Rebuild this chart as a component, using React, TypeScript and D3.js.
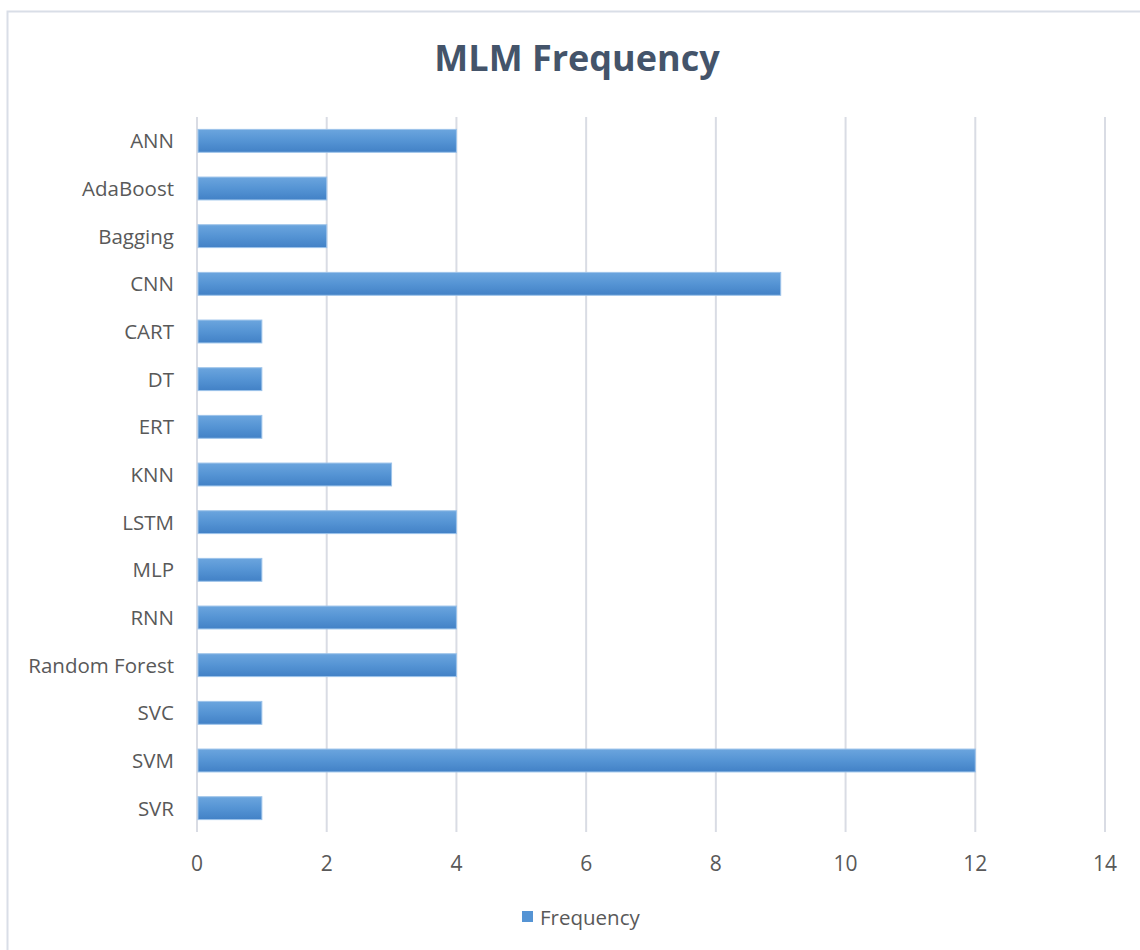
import React from "react";
import * as d3 from "d3";

const categories = ["ANN", "AdaBoost", "Bagging", "CNN", "CART", "DT", "ERT", "KNN", "LSTM", "MLP", "RNN", "Random Forest", "SVC", "SVM", "SVR"];
const frequency = [4, 2, 2, 9, 1, 1, 1, 3, 4, 1, 4, 4, 1, 12, 1];
const xTicks = [0, 2, 4, 6, 8, 10, 12, 14];

const W = 1140;
const H = 950;
const plot = { left: 197, right: 1105, top: 117, bottom: 832 };
const font = "'Open Sans', Lato, 'DejaVu Sans', sans-serif";
const textColor = "#595959";

export default function App() {
  const x = d3.scaleLinear().domain([0, 14]).range([plot.left, plot.right]);
  const y = d3.scaleBand<string>().domain(categories).range([plot.top, plot.bottom]).paddingInner(0.52).paddingOuter(0.26);

  return (
    <div style={{ position: "fixed", left: 0, top: 0 }}>
      <svg width={W} height={H} style={{ display: "block", background: "#fff" }}>
        <defs>
          <linearGradient id="barGrad" x1="0" y1="0" x2="0" y2="1">
            <stop offset="0%" stopColor="#6ba5de" />
            <stop offset="50%" stopColor="#5594d4" />
            <stop offset="100%" stopColor="#4281c6" />
          </linearGradient>
        </defs>
        <rect x={7.5} y={11.5} width={W + 10} height={H + 10} fill="#fff" stroke="#d9dee7" strokeWidth={2} />
        <text x={577} y={71} textAnchor="middle" fontFamily={font} fontWeight={700} fontSize={36} fill="#44546a">
          MLM Frequency
        </text>
        {xTicks.map((t) => (
          <g key={t}>
            <line x1={x(t)} x2={x(t)} y1={plot.top} y2={plot.bottom} stroke="#d9dce4" strokeWidth={2} />
            <text x={x(t)} y={871} textAnchor="middle" fontFamily={font} fontSize={21} fill={textColor}>
              {t}
            </text>
          </g>
        ))}
        {categories.map((c, i) => (
          <g key={c}>
            <rect
              x={x(0) + 1}
              y={y(c)!}
              width={x(frequency[i]) - x(0) - 1}
              height={y.bandwidth()}
              fill="url(#barGrad)"
              stroke="#9cc3ea"
              strokeWidth={1}
            />
            <text x={174} y={y(c)! + y.bandwidth() / 2} dy="0.36em" textAnchor="end" fontFamily={font} fontSize={20.5} fill={textColor}>
              {c}
            </text>
          </g>
        ))}
        <rect x={522} y={911} width={11} height={11} fill="#5594d4" />
        <text x={540} y={925} fontFamily={font} fontSize={20.5} fill={textColor}>
          Frequency
        </text>
      </svg>
    </div>
  );
}
